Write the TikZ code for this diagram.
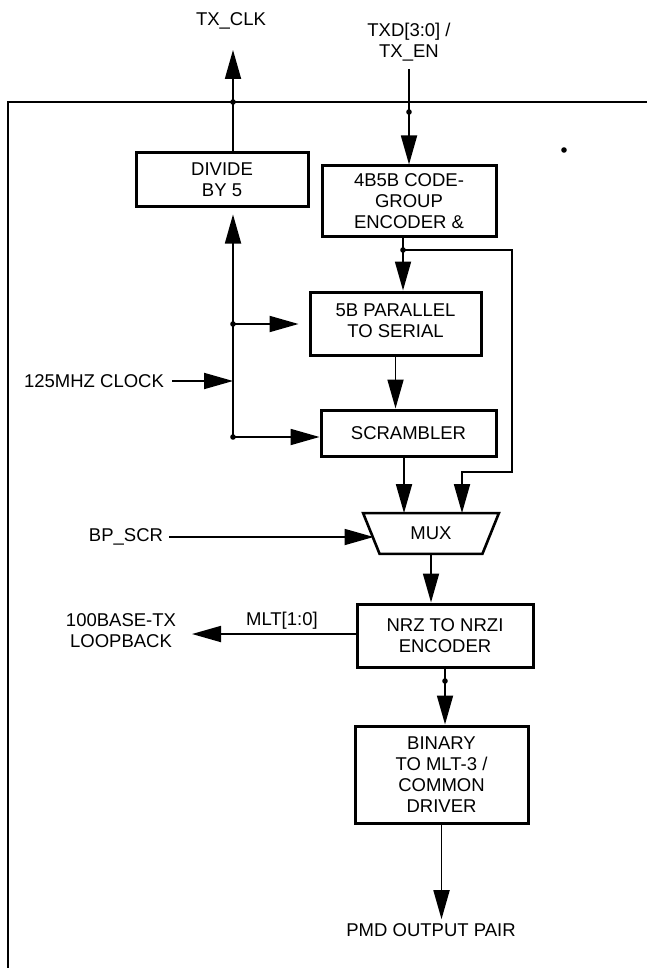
\documentclass[tikz,border=0pt]{standalone}
\usepackage{fontspec}
\setmainfont{Liberation Sans}
\usetikzlibrary{arrows.meta}

\begin{document}
\begin{tikzpicture}[->,>={Triangle[length=29pt,width=16pt]},
    x=1pt, y=-1pt, line width=1.8pt,
    every node/.style={font=\fontsize{18.5}{21}\selectfont, align=center},
    blk/.style={rectangle, draw, line width=3pt}]

    \useasboundingbox (0,0) rectangle (647,968);

    % outer frame
    \draw[-, line width=2.8pt] (8,968) -- (8,102) -- (647,102);

    \node[blk,
          minimum width = 172pt,
          minimum height = 54pt
          ] (div) at (222,180) {};
    \node (divt) at (div.center) {DIVIDE\\BY 5};

    \node[blk,
          minimum width = 174pt,
          minimum height = 71pt
          ] (enc) at (409,201.5) {};
    \node (enct) at (enc.center) {4B5B CODE-\\GROUP\\ENCODER \&};

    \node[blk,
          minimum width = 171pt,
          minimum height = 63pt
          ] (par) at (395.5,323.5) {};
    \node (part) at ([yshift=3pt]par.center) {5B PARALLEL\\TO SERIAL};

    \node[blk,
          minimum width = 175pt,
          minimum height = 46pt
          ] (scr) at (408.5,433) {};
    \node (scrt) at (scr.center) {SCRAMBLER};

    \node[minimum width = 134pt,
          minimum height = 39pt
          ] (mux) at (431,533.5) {};
    \draw[-, line width=2.6pt] (mux.north west) -- (mux.north east)
        -- ([xshift=-16.5pt]mux.south east) -- ([xshift=16.5pt]mux.south west) -- cycle;
    \node (muxt) at (mux.center) {MUX};

    \node[blk,
          minimum width = 176pt,
          minimum height = 63pt
          ] (nrz) at (445,635.5) {};
    \node (nrzt) at (nrz.center) {NRZ TO NRZI\\ENCODER};

    \node[blk,
          minimum width = 173pt,
          minimum height = 97pt
          ] (bin) at (441.5,774.5) {};
    \node (bint) at (bin.center) {BINARY\\TO MLT-3 /\\COMMON\\DRIVER};

    % outside labels
    \node (txclk) at (231,21) {TX\_CLK};
    \node (txd) at (409,42.5) {TXD[3:0] /\\TX\_EN};
    \node (clk) at (94,381) {125MHZ CLOCK};
    \node (bpscr) at (126,537) {BP\_SCR};
    \node (lbk) at (121,631) {100BASE-TX\\LOOPBACK};
    \node (pmd) at (431,930) {PMD OUTPUT PAIR};

    % connector points
    \coordinate (clkup) at (233,50);
    \coordinate (clkdot) at (233,102);
    \coordinate (txdin) at (409,69);
    \coordinate (txddot) at (409,112);
    \coordinate (stray) at (564,150);
    \coordinate (tap) at (403,250);
    \coordinate (byp) at (512,472);
    \coordinate (bypin) at (462,472);
    \coordinate (scrout) at (404,456);
    \coordinate (bus) at (233,437);
    \coordinate (busp) at (233,324);
    \coordinate (clkin) at (172,381);
    \coordinate (bpin) at (169,537);
    \coordinate (muxin) at (373.5,537);
    \coordinate (lbkin) at (192,634);
    \coordinate (nrzdot) at (445,681);

    \path[every node/.style={font=\fontsize{18.5}{21}\selectfont}]
    % data path
    (div.north -| clkup) edge (clkup)
    (txdin) edge (enc.north)
    (enc.south -| tap) edge (par.north -| tap)
    (par.south) edge (par.south |- scr.north)
    (scrout) edge (scrout |- mux.north)
    (bpin) edge (muxin)
    (mux.south) edge (mux.south |- nrz.north)
    (nrz.west |- lbkin) edge node [above, pos=0.45] (mlt) {MLT[1:0]} (lbkin)
    (nrz.south) edge (nrz.south |- bin.north)
    (bin.south) edge (bin.south |- pmd.north)
    % clock bus
    (bus) edge ([yshift=-6pt]div.south -| bus)
    (busp) edge ([xshift=-10pt]par.west |- busp)
    (bus) edge (scr.west |- bus)
    (clkin) edge (clkin -| bus);

    % bypass round the scrambler
    \draw (tap) -| (byp) -- (bypin) -- (bypin |- mux.north);

    \foreach \d in {clkdot,txddot,stray,tap,busp,bus,nrzdot}
        \fill (\d) circle (2.8pt);

\end{tikzpicture}
\end{document}
